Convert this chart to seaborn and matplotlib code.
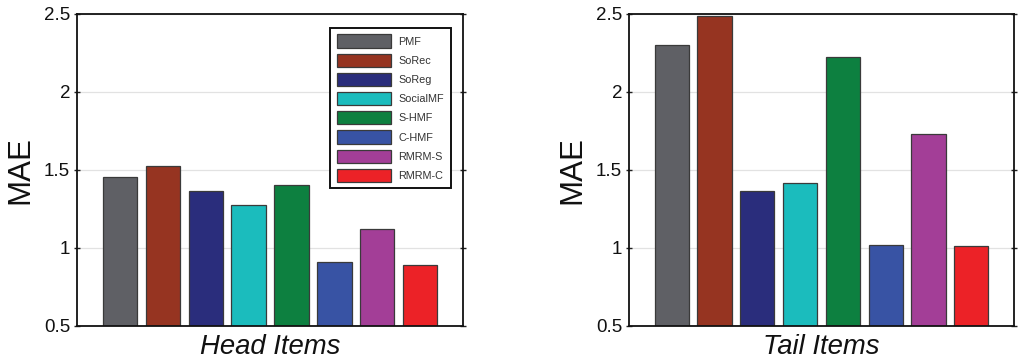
import matplotlib
matplotlib.use("Agg")
import matplotlib.pyplot as plt
import seaborn as sns
import pandas as pd

# MAE per method, for head items and tail items
methods = ["PMF", "SoRec", "SoReg", "SocialMF", "S-HMF", "C-HMF", "RMRM-S", "RMRM-C"]
head_mae = [1.455, 1.525, 1.362, 1.276, 1.405, 0.907, 1.122, 0.890]
tail_mae = [2.297, 2.485, 1.363, 1.414, 2.220, 1.020, 1.732, 1.012]
colors = ["#5f6065", "#963421", "#2a2d7c", "#1bbcbd", "#0d8040", "#3853a4", "#a33e97", "#ec2227"]
panel_labels = ["Head Items", "Tail Items"]
y_ticks = [0.5, 1, 1.5, 2, 2.5]
y_tick_labels = ["0.5", "1", "1.5", "2", "2.5"]

sns.set_theme(style="white")
plt.rcParams["font.family"] = ["Liberation Sans", "DejaVu Sans"]

fig = plt.figure(figsize=(10.19, 3.64), dpi=100)
ax_head = fig.add_axes([0.0756, 0.1044, 0.3788, 0.8585])
ax_tail = fig.add_axes([0.6173, 0.1044, 0.3778, 0.8585])

panels = [(ax_head, head_mae, panel_labels[0]), (ax_tail, tail_mae, panel_labels[1])]
for i, (ax, values, label) in enumerate(panels):
    df = pd.DataFrame({"method": methods, "MAE": values})
    sns.barplot(data=df, x="method", y="MAE", hue="method", palette=colors,
                hue_order=methods, order=methods, width=0.8,
                edgecolor="#3a3a3a", linewidth=0.9, legend=(i == 0), ax=ax,
                saturation=1)
    ax.set_xlim(-1, 8)
    ax.set_ylim(0.5, 2.5)
    ax.set_yticks(y_ticks)
    ax.set_yticklabels(y_tick_labels)
    ax.set_xticks([])
    ax.yaxis.grid(True, color="#e2e2e2", linewidth=0.9)
    ax.set_axisbelow(True)
    for side, spine in ax.spines.items():
        spine.set_visible(True)
        spine.set_color("#111111")
        spine.set_linewidth(1.3)
    ax.tick_params(axis="y", left=True, right=True, direction="inout",
                   length=4, width=1, color="#222222", labelsize=13.5,
                   labelcolor="#111111", pad=3)
    ax.set_ylabel("MAE", fontsize=22.5, color="#111111", labelpad=6)
    ax.set_xlabel(label, fontsize=19.8, style="italic", color="#111111", labelpad=6)

handles, labels = ax_head.get_legend_handles_labels()
leg = ax_head.legend(handles, labels, loc="upper right", bbox_to_anchor=(0.982, 0.971),
                     fontsize=7.8, handlelength=5.0, handleheight=1.5,
                     labelspacing=0.55, handletextpad=0.7, borderpad=0.6,
                     frameon=True, fancybox=False, framealpha=1, edgecolor="#111111")
leg.get_frame().set_linewidth(1.4)
for t in leg.get_texts():
    t.set_color("#333333")

fig.savefig("out.png", dpi=100)
